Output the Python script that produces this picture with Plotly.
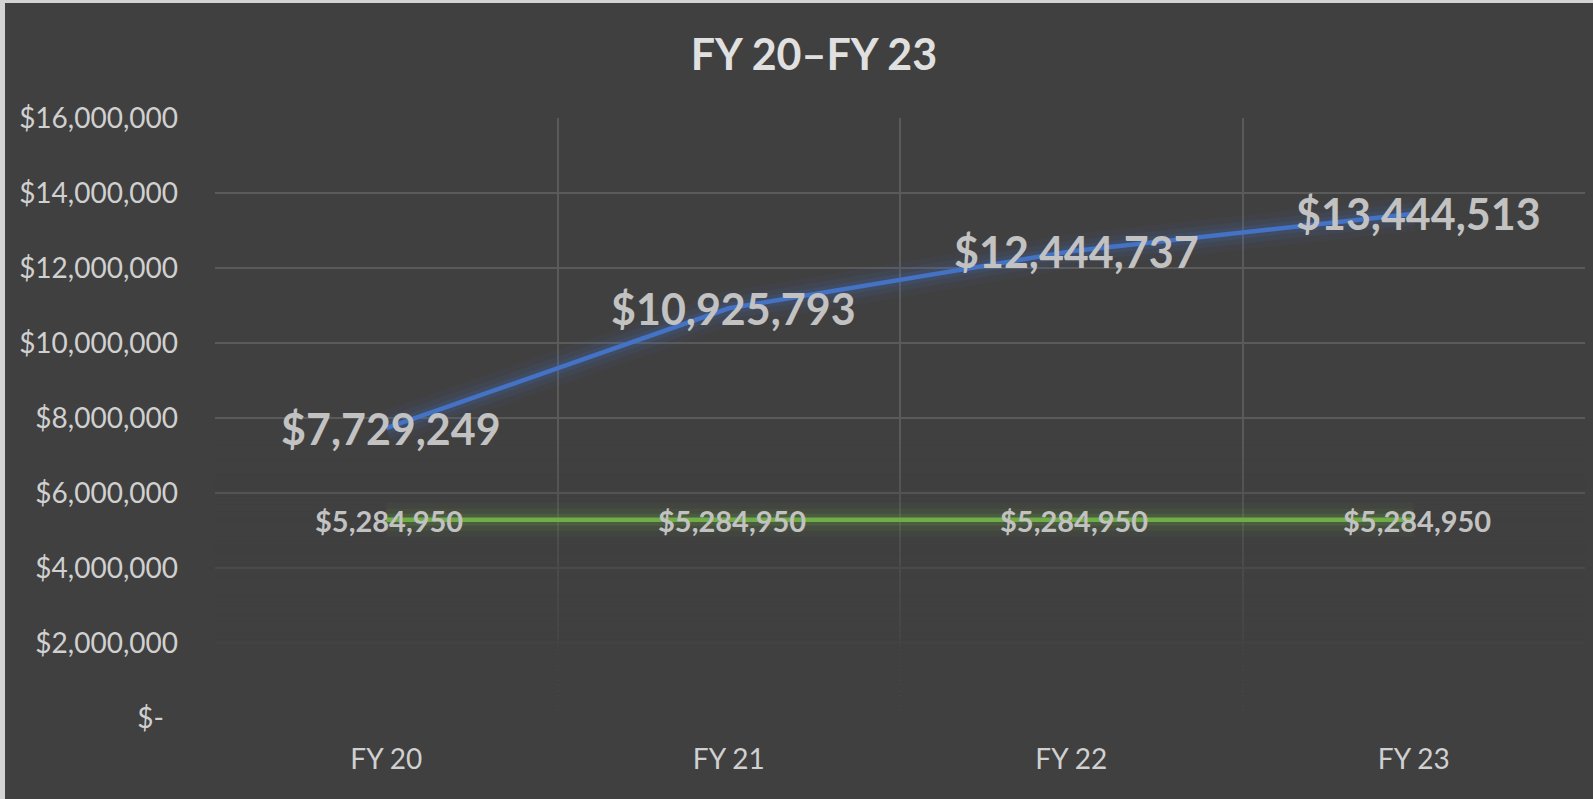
import plotly.graph_objects as go

# ---- data ----
categories = ["FY 20", "FY 21", "FY 22", "FY 23"]
actual_values = [7729249, 10925793, 12444737, 13444513]
baseline_values = [5284950, 5284950, 5284950, 5284950]
y_tick_values = [0, 2000000, 4000000, 6000000, 8000000, 10000000, 12000000, 14000000, 16000000]
y_tick_labels = ["$-\u2002", "$2,000,000", "$4,000,000", "$6,000,000", "$8,000,000",
                 "$10,000,000", "$12,000,000", "$14,000,000", "$16,000,000"]
title_text = "FY 20\u2013FY 23"

def money(v):
    return "${:,}".format(v)

BG = "#404040"
GRID = "#5A5A5A"
BLUE = "#4472C4"
GREEN = "#70AD47"
FONT = "Lato"
LABEL = "#C2C2C2"

xpos = list(range(len(categories)))
boundaries = [i - 0.5 for i in range(len(categories) + 1)]

fig = go.Figure()

# fade of gridlines toward the bottom of the plot area (overlay bands in bg colour)
def fade_alpha(v):
    pts = [(0, 1.0), (1900000, 1.0), (2000000, 0.85), (4000000, 0.6), (6000000, 0.25), (7500000, 0.0)]
    for (a, fa), (b, fb) in zip(pts[:-1], pts[1:]):
        if a <= v <= b:
            return fa + (fb - fa) * (v - a) / (b - a)
    return 0.0

step = 100000
y = 0
while y < 7500000:
    al = fade_alpha(y + step / 2)
    fig.add_trace(go.Scatter(
        x=[boundaries[0] - 0.01, boundaries[-1] + 0.01, boundaries[-1] + 0.01, boundaries[0] - 0.01],
        y=[y, y, y + step, y + step], fill="toself", mode="lines",
        line=dict(width=0), fillcolor="rgba(64,64,64,%.3f)" % al,
        hoverinfo="skip", showlegend=False))
    y += step

# glow layers
for w, a in [(34, 0.05), (22, 0.09), (12, 0.15)]:
    fig.add_trace(go.Scatter(x=xpos, y=baseline_values, mode="lines",
                             line=dict(color=GREEN, width=w), opacity=a,
                             hoverinfo="skip", showlegend=False))
    fig.add_trace(go.Scatter(x=xpos, y=actual_values, mode="lines",
                             line=dict(color=BLUE, width=w), opacity=a,
                             hoverinfo="skip", showlegend=False))

fig.add_trace(go.Scatter(x=xpos, y=baseline_values, mode="lines",
                         line=dict(color=GREEN, width=4.5), hoverinfo="skip", showlegend=False))
fig.add_trace(go.Scatter(x=xpos, y=actual_values, mode="lines",
                         line=dict(color=BLUE, width=4.5), hoverinfo="skip", showlegend=False))

# data labels (annotations anchored at the data points)
annotations = []
for xv, v in zip(xpos, baseline_values):
    annotations.append(dict(x=xv, y=v, xref="x", yref="y", text=money(v), showarrow=False,
                            xanchor="center", yanchor="middle", xshift=3, yshift=-1,
                            font=dict(family=FONT, size=29, color=LABEL, weight="bold")))
for xv, v in zip(xpos, actual_values):
    annotations.append(dict(x=xv, y=v, xref="x", yref="y", text=money(v), showarrow=False,
                            xanchor="center", yanchor="middle", xshift=5, yshift=0,
                            font=dict(family=FONT, size=43, color=LABEL, weight="bold")))

# light frame strips (left and top edge of the screenshot)
L, T, PW, PH = 215, 118, 1370, 600
shapes = [
    dict(type="rect", xref="paper", yref="paper",
         x0=-L / PW, x1=(5 - L) / PW, y0=-81 / PH, y1=(T + PH) / PH,
         fillcolor="#D4D4D4", line=dict(width=0), layer="above"),
    dict(type="rect", xref="paper", yref="paper",
         x0=-L / PW, x1=(1593 - L) / PW, y0=(T + PH - 3) / PH, y1=(T + PH) / PH,
         fillcolor="#D4D4D4", line=dict(width=0), layer="above"),
]

fig.update_layout(
    width=1593, height=799, autosize=False,
    margin=dict(l=215, r=8, t=118, b=81, pad=0),
    paper_bgcolor=BG, plot_bgcolor=BG,
    font=dict(family=FONT, color="#D0D0D0"),
    title=dict(text=title_text, x=(814 - L) / PW, xref="paper", xanchor="center",
               y=1 - 55 / 799, yref="container", yanchor="middle",
               font=dict(family=FONT, size=43, color="#E0E0E0", weight="bold")),
    showlegend=False,
    hovermode=False,
    shapes=shapes,
    annotations=annotations,
    xaxis=dict(range=[boundaries[0], boundaries[-1]], tickmode="array",
               tickvals=xpos, ticktext=categories, showgrid=False,
               minor=dict(tickmode="array", tickvals=boundaries, showgrid=True,
                          gridcolor=GRID, gridwidth=1.5, ticks=""),
               ticks="", showline=False, zeroline=False,
               tickfont=dict(family=FONT, size=28, color="#D0D0D0"),
               ticklabelstandoff=22, fixedrange=True),
    yaxis=dict(range=[0, 16000000], tickmode="array", tickvals=y_tick_values,
               ticktext=y_tick_labels, showgrid=True, gridcolor=GRID, gridwidth=1.5,
               zeroline=False, ticks="", showline=False,
               tickfont=dict(family=FONT, size=28, color="#D0D0D0"),
               ticklabelstandoff=36, fixedrange=True),
)

fig.write_html("out.html", config={"displayModeBar": False},
               post_script="document.body.style.margin='0px';document.body.style.background='#404040';")
